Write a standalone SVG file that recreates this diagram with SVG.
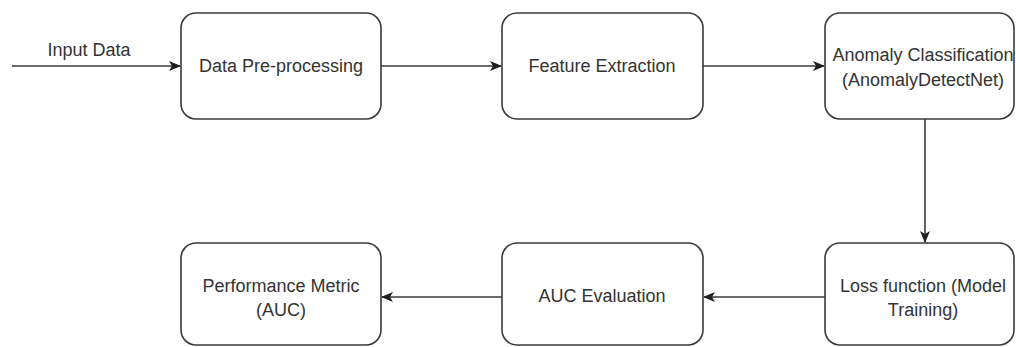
<svg xmlns="http://www.w3.org/2000/svg" width="1016" height="347" viewBox="0 0 1016 347">
<style>
.box{fill:#ffffff;stroke:#3a3a3a;stroke-width:1.6}
.lbl{font-family:"Liberation Sans",Arial,sans-serif;font-size:18px;fill:#333333;text-anchor:middle}
.edge{fill:none;stroke:#3a3a3a;stroke-width:1.6}
</style>
<defs>
<marker id="arr" viewBox="0 0 12 10" refX="11" refY="5" markerWidth="12" markerHeight="10" markerUnits="userSpaceOnUse" orient="auto">
<path d="M0,0 L12,5 L0,10 L3,5 Z" fill="#1f1f1f"/>
</marker>
</defs>
<rect width="1016" height="347" fill="#ffffff"/>
<g id="connectors">
<path class="edge" d="M12,66 L180,66" marker-end="url(#arr)"/>
<path class="edge" d="M381,66 L501,66" marker-end="url(#arr)"/>
<path class="edge" d="M703,66 L824,66" marker-end="url(#arr)"/>
<path class="edge" d="M925,119 L925,242" marker-end="url(#arr)"/>
<path class="edge" d="M825,297 L704,297" marker-end="url(#arr)"/>
<path class="edge" d="M502,297 L382,297" marker-end="url(#arr)"/>
<text class="lbl" x="89" y="56">Input Data</text>
</g>
<g id="n1">
<rect class="box" x="181" y="13" width="200" height="106" rx="15"/>
<text class="lbl" x="281" y="72">Data Pre-processing</text>
</g>
<g id="n2">
<rect class="box" x="502" y="13" width="201" height="106" rx="15"/>
<text class="lbl" x="602" y="72">Feature Extraction</text>
</g>
<g id="n3">
<rect class="box" x="825" y="13" width="189" height="106" rx="15"/>
<text class="lbl" x="923" y="61">Anomaly Classification</text>
<text class="lbl" x="923" y="86">(AnomalyDetectNet)</text>
</g>
<g id="n4">
<rect class="box" x="825" y="243" width="189" height="102" rx="15"/>
<text class="lbl" x="923" y="292">Loss function (Model</text>
<text class="lbl" x="923" y="316">Training)</text>
</g>
<g id="n5">
<rect class="box" x="502" y="243" width="201" height="102" rx="15"/>
<text class="lbl" x="602" y="302">AUC Evaluation</text>
</g>
<g id="n6">
<rect class="box" x="181" y="243" width="200" height="102" rx="15"/>
<text class="lbl" x="281" y="292">Performance Metric</text>
<text class="lbl" x="281" y="316">(AUC)</text>
</g>
</svg>
